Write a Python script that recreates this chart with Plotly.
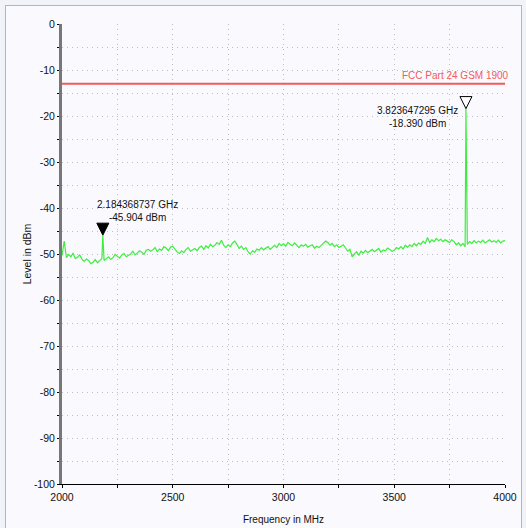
import plotly.graph_objects as go

# ---------------- data ----------------
freq_start = 2000
freq_step = 10  # MHz
trace_levels = [
    -50.3, -47.2, -50.8, -50.1, -50.6, -49.8, -51.0, -50.7, -50.2, -51.1,
    -51.6, -51.1, -51.4, -52.1, -51.8, -51.2, -51.9, -51.5, -51.0, -51.4,
    -51.0, -50.6, -51.2, -50.8, -50.1, -50.5, -50.9, -50.2, -49.9, -50.6,
    -50.3, -50.0, -49.4, -50.2, -49.8, -49.3, -49.6, -50.1, -49.2, -49.0,
    -49.4, -49.1, -48.6, -49.5, -48.9, -49.2, -48.4, -48.7, -49.3, -48.5,
    -48.3, -48.9, -49.6, -49.9, -49.3, -49.7, -49.0, -48.6, -49.4, -49.1,
    -48.8, -49.3, -48.6, -48.3, -49.0, -48.2, -48.7, -47.9, -48.4, -48.1,
    -47.5, -47.9, -47.0, -48.1, -48.6, -48.0, -48.4, -47.6, -47.2, -47.9,
    -48.8, -48.3, -49.0, -48.6, -49.5, -50.0, -49.3, -49.6, -48.9, -49.2,
    -48.6, -49.1, -48.8, -48.4, -49.0, -48.5, -48.1, -48.6, -47.7, -48.2,
    -47.8, -48.3, -47.5, -47.9, -48.2, -47.6, -48.1, -48.6, -48.0, -48.3,
    -47.9, -48.5, -48.2, -48.0, -48.7, -48.3, -48.6, -48.1, -47.8, -47.2,
    -47.5, -48.1, -47.7, -48.4, -48.0, -48.6, -48.3, -48.0, -48.7, -49.4,
    -49.0, -50.6, -50.0, -49.5, -50.3, -49.4, -49.8, -49.2, -49.7, -49.4,
    -49.0, -49.5, -49.2, -48.8, -49.6, -49.1, -49.3, -48.7, -49.0, -49.4,
    -49.2, -48.6, -48.9, -48.4, -48.9, -48.1, -48.5, -48.0, -48.4, -47.7,
    -48.2, -47.6, -47.9, -47.2, -47.7, -46.4, -47.5, -46.9, -47.3, -46.6,
    -47.1, -46.8, -47.3, -46.9, -47.2, -47.5, -46.9, -47.3, -48.0, -47.6,
    -48.2, -47.7, -48.4, -47.9, -47.3, -47.7, -47.1, -47.6, -47.2, -47.5,
    -47.0, -47.6, -47.2, -46.9, -47.4, -47.1, -47.5, -47.0, -47.6, -47.2,
    -47.1,
]
marker_freqs = [2184.368737, 3823.647295]   # MHz
marker_levels = [-45.904, -18.390]           # dBm
marker_filled = [True, False]

limit_level = -13
limit_label = "FCC Part 24 GSM 1900"

x_tick_vals = list(range(2000, 4001, 250))
x_tick_text = [str(v) if v % 500 == 0 else "" for v in x_tick_vals]
y_tick_vals = list(range(-100, 1, 5))
y_tick_text = [str(v) if v % 10 == 0 else "" for v in y_tick_vals]

# ---------------- build trace (merge peaks into sweep) ----------------
pts = [(freq_start + i * freq_step, lv) for i, lv in enumerate(trace_levels)]
pts += list(zip(marker_freqs, marker_levels))
pts.sort()
xs = [p[0] for p in pts]
ys = [p[1] for p in pts]

FONT = "Liberation Sans, Arial, sans-serif"
FS = 10

fig = go.Figure()
fig.add_trace(go.Scatter(x=xs, y=ys, mode="lines",
                         line=dict(color="#3def3d", width=1.2), hoverinfo="skip"))

# limit line
fig.add_trace(go.Scatter(x=[2000, 4000], y=[limit_level, limit_level], mode="lines",
                         line=dict(color="#f25a5a", width=2), hoverinfo="skip"))

shapes = []
annotations = []
for f, lv, filled in zip(marker_freqs, marker_levels, marker_filled):
    shapes.append(dict(type="path", xref="x", yref="y",
                       xsizemode="pixel", ysizemode="pixel",
                       xanchor=f, yanchor=lv,
                       path="M -6 12 L 6 12 L 0 0 Z",
                       fillcolor="black" if filled else "white",
                       line=dict(color="black", width=1)))

annotations.append(dict(x=marker_freqs[0], y=marker_levels[0], xref="x", yref="y",
                        text=f"{marker_freqs[0]/1000:.9f} GHz<br>{marker_levels[0]:.3f} dBm",
                        showarrow=False, xanchor="left", yanchor="bottom",
                        xshift=-8, yshift=10, align="center",
                        font=dict(family=FONT, size=FS, color="#111")))
annotations.append(dict(x=marker_freqs[1], y=marker_levels[1], xref="x", yref="y",
                        text=f"{marker_freqs[1]/1000:.9f} GHz<br>{marker_levels[1]:.3f} dBm",
                        showarrow=False, xanchor="right", yanchor="top",
                        xshift=-6, yshift=6, align="center",
                        font=dict(family=FONT, size=FS, color="#111")))
annotations.append(dict(x=4000, y=limit_level, xref="x", yref="y",
                        text=limit_label, showarrow=False,
                        xanchor="right", yanchor="bottom", xshift=6, yshift=1,
                        font=dict(family=FONT, size=FS, color="#f25a5a")))

# figure placed at (6,6) inside a bordered panel on the page
OFF = 6
fig.update_layout(
    width=521 - OFF, height=528 - OFF,
    margin=dict(l=62 - OFF, r=521 - 505, t=24 - OFF, b=44, autoexpand=False),
    paper_bgcolor="#f9f9fe",
    plot_bgcolor="rgba(0,0,0,0)",
    showlegend=False,
    font=dict(family=FONT, size=FS, color="#111"),
    shapes=shapes,
    annotations=annotations,
    xaxis=dict(range=[2000, 4000], tickmode="array", tickvals=x_tick_vals, ticktext=x_tick_text,
               showgrid=True, gridcolor="#bdbdc4", griddash="1px,4px", gridwidth=1,
               showline=True, linecolor="#000", linewidth=1, zeroline=False,
               ticks="outside", ticklen=3, tickcolor="#000",
               tickfont=dict(size=FS + 0.5, color="#111"),
               title=dict(text="Frequency in MHz", font=dict(size=FS), standoff=14)),
    yaxis=dict(range=[-100, 0], tickmode="array", tickvals=y_tick_vals, ticktext=y_tick_text,
               showgrid=True, gridcolor="#bdbdc4", griddash="1px,4px", gridwidth=1,
               showline=True, linecolor="#777", linewidth=3, zeroline=False,
               ticks="outside", ticklen=2, tickcolor="#000",
               tickfont=dict(size=FS + 0.5, color="#111"),
               title=dict(text="Level in dBm", font=dict(size=FS + 0.5), standoff=1)),
)

post = (
    "document.body.style.margin='0px';"
    "document.body.style.background='#f2f2f9';"
    "document.body.style.overflow='hidden';"
    "var gd=document.getElementById('{plot_id}');"
    "gd.style.position='absolute';gd.style.left='5px';gd.style.top='5px';"
    "gd.style.borderLeft='1px solid #b4b4bc';gd.style.borderTop='1px solid #b4b4bc';"
    "gd.style.borderRight='1px solid #b4b4bc';"
)

fig.write_html("out.html", config={"displayModeBar": False}, post_script=post)
